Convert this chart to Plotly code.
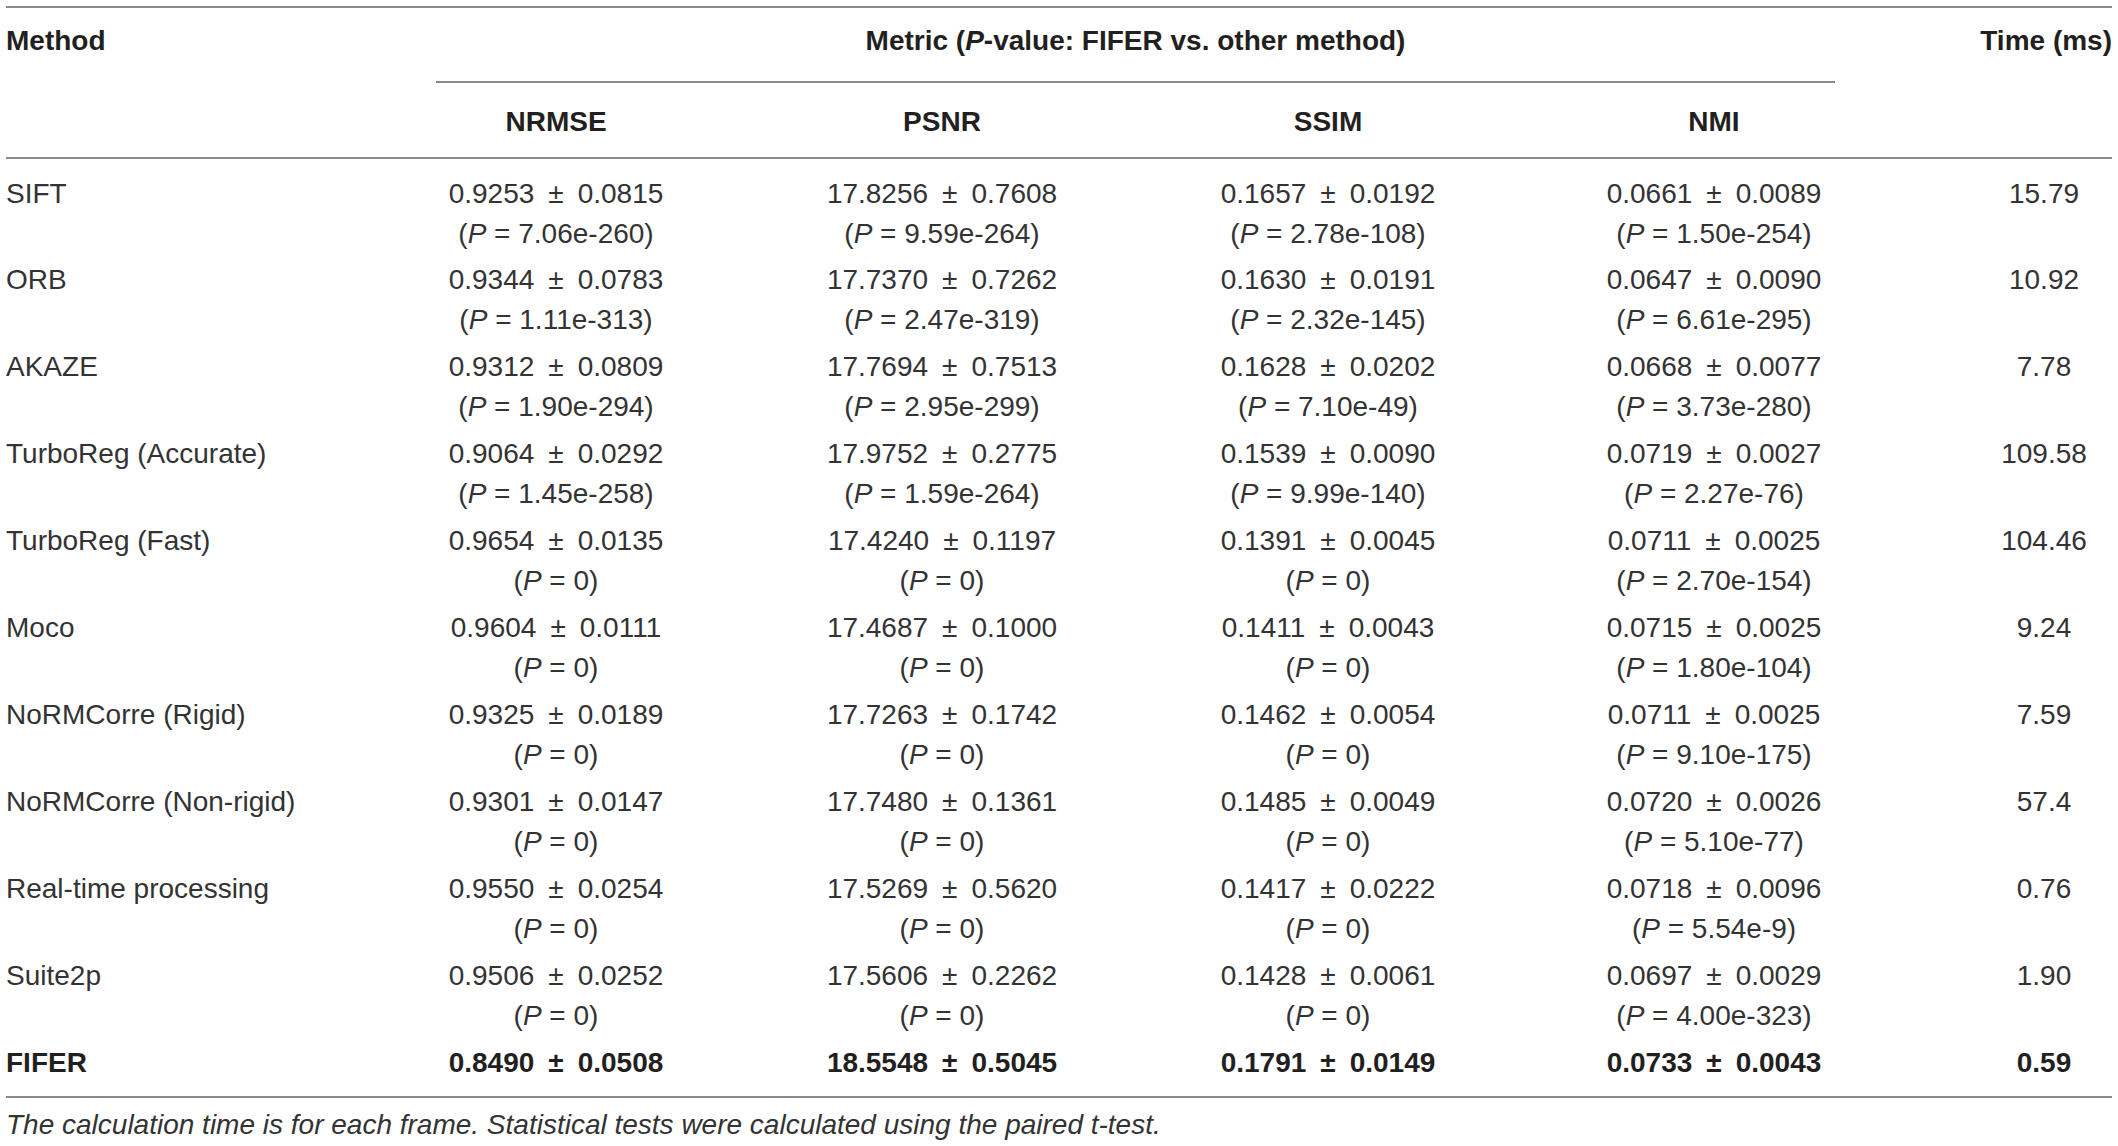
import plotly.graph_objects as go

# ---------------- data ----------------
methods = ["SIFT", "ORB", "AKAZE", "TurboReg (Accurate)", "TurboReg (Fast)", "Moco",
           "NoRMCorre (Rigid)", "NoRMCorre (Non-rigid)", "Real-time processing", "Suite2p", "FIFER"]

metrics = ["NRMSE", "PSNR", "SSIM", "NMI"]

nrmse_mean = [0.9253, 0.9344, 0.9312, 0.9064, 0.9654, 0.9604, 0.9325, 0.9301, 0.9550, 0.9506, 0.8490]
nrmse_sd   = [0.0815, 0.0783, 0.0809, 0.0292, 0.0135, 0.0111, 0.0189, 0.0147, 0.0254, 0.0252, 0.0508]
nrmse_p    = ["7.06e-260", "1.11e-313", "1.90e-294", "1.45e-258", "0", "0", "0", "0", "0", "0", None]

psnr_mean = [17.8256, 17.7370, 17.7694, 17.9752, 17.4240, 17.4687, 17.7263, 17.7480, 17.5269, 17.5606, 18.5548]
psnr_sd   = [0.7608, 0.7262, 0.7513, 0.2775, 0.1197, 0.1000, 0.1742, 0.1361, 0.5620, 0.2262, 0.5045]
psnr_p    = ["9.59e-264", "2.47e-319", "2.95e-299", "1.59e-264", "0", "0", "0", "0", "0", "0", None]

ssim_mean = [0.1657, 0.1630, 0.1628, 0.1539, 0.1391, 0.1411, 0.1462, 0.1485, 0.1417, 0.1428, 0.1791]
ssim_sd   = [0.0192, 0.0191, 0.0202, 0.0090, 0.0045, 0.0043, 0.0054, 0.0049, 0.0222, 0.0061, 0.0149]
ssim_p    = ["2.78e-108", "2.32e-145", "7.10e-49", "9.99e-140", "0", "0", "0", "0", "0", "0", None]

nmi_mean = [0.0661, 0.0647, 0.0668, 0.0719, 0.0711, 0.0715, 0.0711, 0.0720, 0.0718, 0.0697, 0.0733]
nmi_sd   = [0.0089, 0.0090, 0.0077, 0.0027, 0.0025, 0.0025, 0.0025, 0.0026, 0.0096, 0.0029, 0.0043]
nmi_p    = ["1.50e-254", "6.61e-295", "3.73e-280", "2.27e-76", "2.70e-154", "1.80e-104", "9.10e-175",
            "5.10e-77", "5.54e-9", "4.00e-323", None]

time_ms = ["15.79", "10.92", "7.78", "109.58", "104.46", "9.24", "7.59", "57.4", "0.76", "1.90", "0.59"]

header_method = "Method"
header_metric = "Metric (<i>P</i>-value: FIFER vs. other method)"
header_time = "Time (ms)"
footnote = "The calculation time is for each frame. Statistical tests were calculated using the paired t-test."

# ---------------- layout constants ----------------
W, H = 2118, 1146
FONT = "Liberation Sans, Arial, Helvetica, sans-serif"
TXT = "#231f20"
TXT_REG = "#333333"
LINE = "#8a8a8a"
FS = 28
SP = "\u2002"  # wider space around the plus-minus sign
left_x = 6
right_x = 2112
col0_x = 556
col_step = 386
time_x = 2044
row0_y = 195.5
row_step = 86.9
line2_dy = 40
hdr1_y = 43
hdr2_y = 124
top_line_y = 7
sub_line_y = 82
hdr_line_y = 158
bot_line_y = 1097
foot_y = 1127
sub_line_x0 = 436
sub_line_x1 = 1835

means = [nrmse_mean, psnr_mean, ssim_mean, nmi_mean]
sds = [nrmse_sd, psnr_sd, ssim_sd, nmi_sd]
pvals = [nrmse_p, psnr_p, ssim_p, nmi_p]

fig = go.Figure()


def add_text(xs, ys, texts, pos="middle center", size=FS, color=TXT_REG):
    fig.add_trace(go.Scatter(
        x=xs, y=ys, text=texts, mode="text", textposition=pos,
        textfont=dict(family=FONT, size=size, color=color),
        hoverinfo="skip", showlegend=False, cliponaxis=False))


n = len(methods)
row_y = [row0_y + i * row_step for i in range(n)]
last = n - 1

# method names
add_text([left_x] * (n - 1), row_y[:last], methods[:last], pos="middle right")
add_text([left_x], [row_y[last]], [f"<b>{methods[last]}</b>"], pos="middle right", color=TXT)

# metric columns
for j in range(len(metrics)):
    cx = col0_x + j * col_step
    line1 = [f"{means[j][i]:.4f}{SP}\u00b1{SP}{sds[j][i]:.4f}" for i in range(n)]
    add_text([cx] * (n - 1), row_y[:last], line1[:last])
    add_text([cx], [row_y[last]], [f"<b>{line1[last]}</b>"], color=TXT)
    ys2, t2 = [], []
    for i in range(n):
        if pvals[j][i] is not None:
            ys2.append(row_y[i] + line2_dy)
            t2.append(f"(<i>P</i> = {pvals[j][i]})")
    add_text([cx] * len(ys2), ys2, t2)

# time column
add_text([time_x] * (n - 1), row_y[:last], time_ms[:last])
add_text([time_x], [row_y[last]], [f"<b>{time_ms[last]}</b>"], color=TXT)

# headers
add_text([left_x], [hdr1_y], [f"<b>{header_method}</b>"], pos="middle right", color=TXT)
add_text([(sub_line_x0 + sub_line_x1) / 2], [hdr1_y], [f"<b>{header_metric}</b>"], color=TXT)
add_text([right_x], [hdr1_y], [f"<b>{header_time}</b>"], pos="middle left", color=TXT)
add_text([col0_x + j * col_step for j in range(len(metrics))], [hdr2_y] * len(metrics),
         [f"<b>{m}</b>" for m in metrics], color=TXT)

# footnote
add_text([left_x], [foot_y], [f"<i>{footnote}</i>"], pos="middle right")

# rules
for (x0, x1, y) in [(left_x, right_x, top_line_y), (sub_line_x0, sub_line_x1, sub_line_y),
                    (left_x, right_x, hdr_line_y), (left_x, right_x, bot_line_y)]:
    fig.add_shape(type="line", xref="x", yref="y", x0=x0, x1=x1, y0=y, y1=y,
                  line=dict(color=LINE, width=2))

fig.update_layout(
    width=W, height=H, margin=dict(l=0, r=0, t=0, b=0),
    paper_bgcolor="white", plot_bgcolor="white",
    xaxis=dict(range=[0, W], visible=False, fixedrange=True),
    yaxis=dict(range=[H, 0], visible=False, fixedrange=True),
)

fig.write_html(
    "out.html",
    config={"displayModeBar": False, "staticPlot": True},
    post_script="document.body.style.margin='0';document.body.style.overflow='hidden';",
)
